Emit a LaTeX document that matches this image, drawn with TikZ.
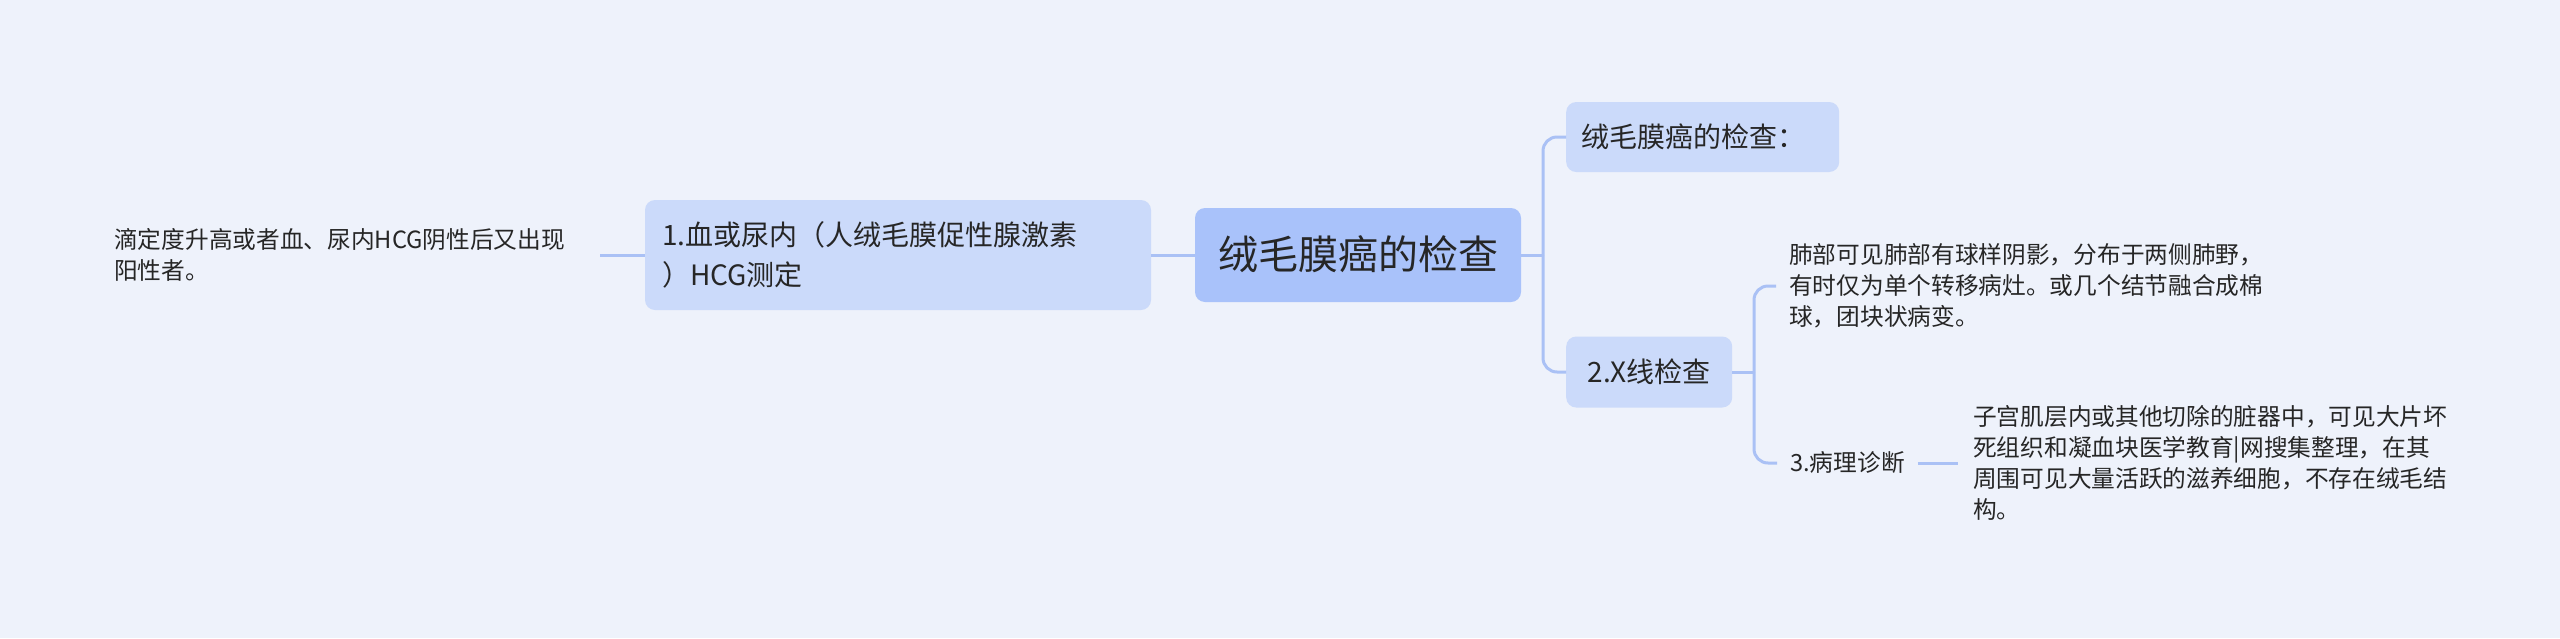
\documentclass[tikz,border=0pt]{standalone}
\usepackage{fontspec}
\setmainfont{Noto Sans CJK SC}
\definecolor{bgcol}{RGB}{238,242,251}
\definecolor{rootfill}{RGB}{169,194,250}
\definecolor{boxfill}{RGB}{203,218,250}
\definecolor{linkcol}{RGB}{170,193,245}
\definecolor{inkcol}{RGB}{38,38,38}
\begin{document}
\begin{tikzpicture}[x=1pt,y=-1pt,
  every node/.style={text=inkcol},
  topic/.style={fill=boxfill, rounded corners=10pt, font=\fontsize{28}{40}\selectfont,
    inner xsep=15pt, inner ysep=0pt, align=left},
  leaf/.style={font=\fontsize{23.7}{31}\selectfont, align=left, inner ysep=0pt},
  link/.style={draw=linkcol, line width=3pt}]
  % Background
  \fill[bgcol] (0,0) rectangle (2560,638);
  % Centre and left side
  \node[topic, fill=rootfill, font=\fontsize{40}{48}\selectfont,
    minimum width=326pt, minimum height=94pt] (root) at (1358,255) {绒毛膜癌的检查};
  \node[topic, text width=472pt, inner xsep=17pt, minimum height=110pt] (hcg) at (898,255)
    {1.血或尿内（人绒毛膜促性腺激素\\）HCG测定};
  \node[leaf, text width=478pt, inner xsep=8pt, anchor=west] (titer) at (106,255)
    {滴定度升高或者血、尿内HCG阴性后又出现\\阳性者。};
  \draw[link] (titer.east) -- (hcg.west);
  \draw[link] (hcg.east) -- (root.west);
  % Right side
  \node[topic, text width=243pt, minimum height=70pt, anchor=west] (exam) at (1566,137) {绒毛膜癌的检查：};
  \node[topic, minimum width=166pt, minimum height=71pt, anchor=west] (xray) at (1566,372) {2.X线检查};
  \coordinate (fork) at (1543,255);
  \draw[link] (root.east) -- (fork);
  \draw[link, rounded corners=14pt] (fork) |- (exam.west);
  \draw[link, rounded corners=14pt] (fork) |- (xray.west);
  % Under 2.X
  \node[leaf, text width=490pt, inner xsep=13pt, anchor=west] (lung) at (1776,286)
    {肺部可见肺部有球样阴影，分布于两侧肺野，\\有时仅为单个转移病灶。或几个结节融合成棉\\球，团块状病变。};
  \node[leaf, inner xsep=13pt, anchor=west] (patho) at (1777,463) {3.病理诊断};
  \node[leaf, text width=490pt, inner xsep=15pt, anchor=west] (tissue) at (1958,463)
    {子宫肌层内或其他切除的脏器中，可见大片坏\\死组织和凝血块医学教育|网搜集整理，在其\\周围可见大量活跃的滋养细胞，不存在绒毛结\\构。};
  \coordinate (fork2) at (1754,372);
  \draw[link] (xray.east) -- (fork2);
  \draw[link, rounded corners=14pt] (fork2) |- (lung.west);
  \draw[link, rounded corners=14pt] (fork2) |- (patho.west);
  \draw[link] (patho.east) -- (tissue.west);
\end{tikzpicture}
\end{document}
